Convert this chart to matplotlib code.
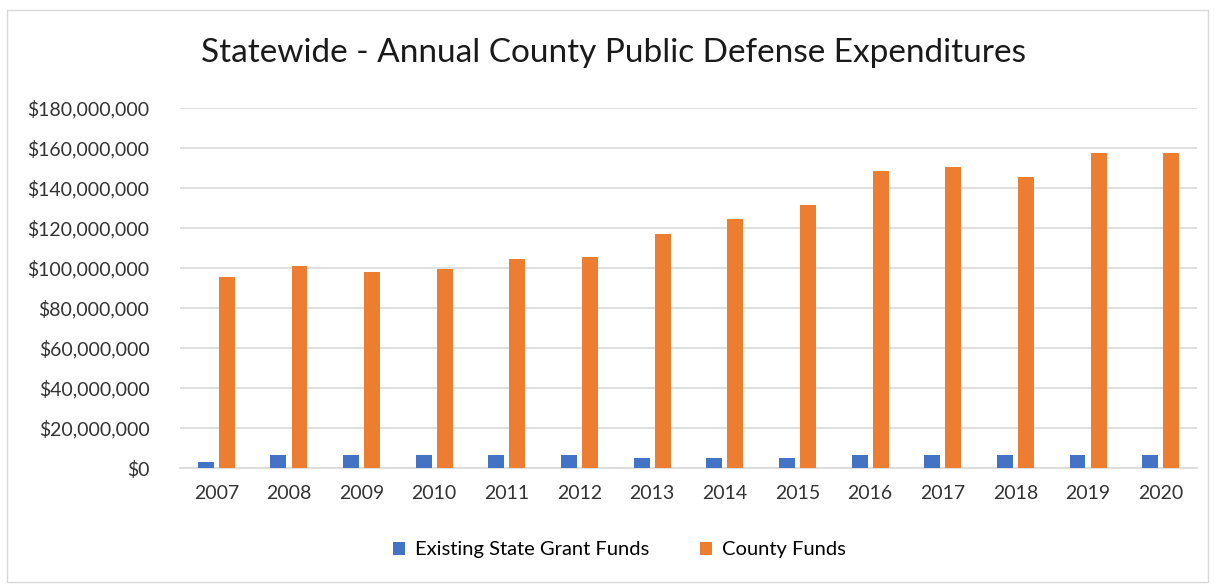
import numpy as np
import matplotlib.pyplot as plt
from matplotlib.patches import Rectangle
from matplotlib.ticker import FuncFormatter

plt.rcParams['font.family'] = ['Lato', 'DejaVu Sans']

years = ["2007", "2008", "2009", "2010", "2011", "2012", "2013",
         "2014", "2015", "2016", "2017", "2018", "2019", "2020"]
state_grant = [3.2, 6.3, 6.3, 6.3, 6.3, 6.3, 5.2,
               5.2, 5.2, 6.3, 6.3, 6.3, 6.3, 6.3]  # millions
county_funds = [95.3, 101.2, 98.2, 99.3, 104.3, 105.3, 117.2,
                124.3, 131.3, 148.3, 150.3, 145.3, 157.3, 157.3]  # millions

state_grant = np.array(state_grant) * 1e6
county_funds = np.array(county_funds) * 1e6

BLUE = "#4472C4"
ORANGE = "#ED7D31"

fig = plt.figure(figsize=(12.15, 5.85), dpi=100)
ax = fig.add_axes([180 / 1215, 1 - 468 / 585, 1017 / 1215, 360 / 585])

x = np.arange(len(years))
w = 0.22
ax.bar(x - 0.145, state_grant, width=w, color=BLUE, label="Existing State Grant Funds", zorder=3)
ax.bar(x + 0.145, county_funds, width=w, color=ORANGE, label="County Funds", zorder=3)

ax.set_xlim(-0.5, len(years) - 0.5)
ax.set_ylim(0, 180e6)
ax.set_yticks(np.arange(0, 180e6 + 1, 20e6))
ax.yaxis.set_major_formatter(FuncFormatter(lambda v, p: f"${v:,.0f}"))
ax.set_xticks(x)
ax.set_xticklabels(years)

ax.grid(axis="y", color="#D9D9D9", linewidth=1.2, zorder=0)
for s in ["top", "right", "left"]:
    ax.spines[s].set_visible(False)
ax.spines["bottom"].set_color("#D9D9D9")
ax.spines["bottom"].set_linewidth(1.2)
ax.tick_params(axis="both", length=0, labelsize=14, colors="#333333")
ax.tick_params(axis="x", pad=12)
ax.tick_params(axis="y", pad=22)

fig.text(0.505, 1 - 53 / 585, "Statewide - Annual County Public Defense Expenditures",
         ha="center", va="center", fontsize=24, color="#1a1a1a")

fig.legend(loc="center", bbox_to_anchor=(0.51, 1 - 550 / 585), ncol=2,
           frameon=False, fontsize=14.5, handlelength=0.6, handleheight=0.6,
           columnspacing=2.5, handletextpad=0.5)

fig.patches.append(Rectangle((7 / 1215, 0.005), 1 - 14 / 1215, 1 - 0.005 - 10 / 585,
                             transform=fig.transFigure, fill=False,
                             edgecolor="#D9D9D9", linewidth=1))

plt.savefig("out.png", dpi=100)
